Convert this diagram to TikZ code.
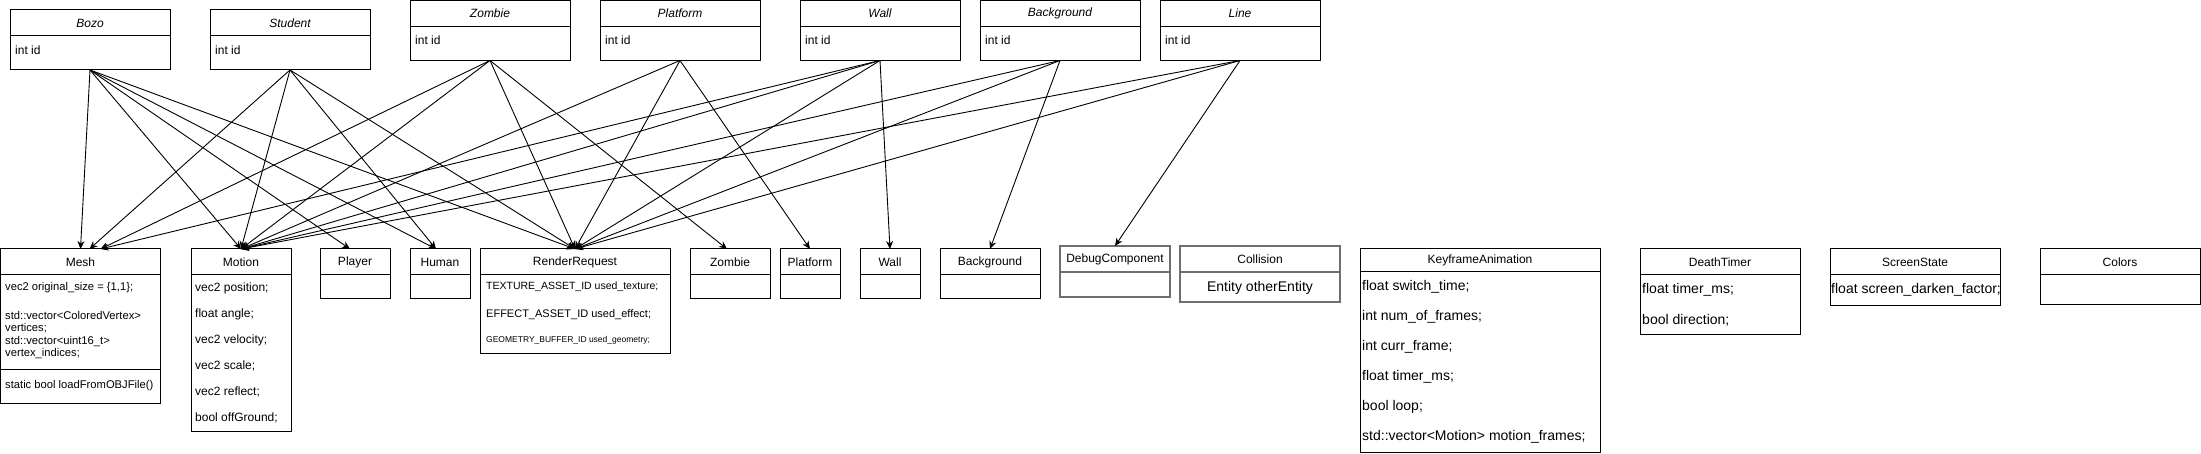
\documentclass[tikz,border=0pt]{standalone}
\usepackage{fontspec}
\setmainfont{Liberation Sans}
\usetikzlibrary{arrows.meta}
\definecolor{boxgray}{RGB}{110,110,110}

\begin{document}
\begin{tikzpicture}[x=1pt, y=-1pt,
    box/.style={draw, line width=1pt, anchor=north west, inner sep=0pt, outer sep=0pt},
    graybox/.style={box, draw=boxgray, line width=1.8pt},
    ttl/.style={font=\fontsize{12}{14}\selectfont, inner sep=0pt},
    attr/.style={font=\fontsize{12}{14}\selectfont, anchor=west, inner sep=0pt},
    small/.style={attr, font=\fontsize{11.2}{12}\selectfont, align=left},
    big/.style={attr, font=\fontsize{14}{16}\selectfont},
    edge/.style={line width=0.9pt, -{Stealth[length=8pt, width=7pt]}}]
        \useasboundingbox (0,0) rectangle (2201,454);

        \node[box, minimum width=160, minimum height=60] (bozo) at (10,10) {};
        \draw[line width=1pt] ([yshift=-26pt]bozo.north west) -- ([yshift=-26pt]bozo.north east);
        \node[ttl] (bozo-t) at ([yshift=-13pt]bozo.north) {\itshape Bozo};
        \node[attr] (bozo-a) at ([xshift=5pt,yshift=-40pt]bozo.north west) {int id};

        \node[box, minimum width=160, minimum height=60] (student) at (210,10) {};
        \draw[line width=1pt] ([yshift=-26pt]student.north west) -- ([yshift=-26pt]student.north east);
        \node[ttl] (student-t) at ([yshift=-13pt]student.north) {\itshape Student};
        \node[attr] (student-a) at ([xshift=5pt,yshift=-40pt]student.north west) {int id};

        \node[box, minimum width=160, minimum height=60] (zombie) at (410,0.5) {};
        \draw[line width=1pt] ([yshift=-26pt]zombie.north west) -- ([yshift=-26pt]zombie.north east);
        \node[ttl] (zombie-t) at ([yshift=-13pt]zombie.north) {\itshape Zombie};
        \node[attr] (zombie-a) at ([xshift=5pt,yshift=-40pt]zombie.north west) {int id};

        \node[box, minimum width=160, minimum height=60] (platform) at (600,0.5) {};
        \draw[line width=1pt] ([yshift=-26pt]platform.north west) -- ([yshift=-26pt]platform.north east);
        \node[ttl] (platform-t) at ([yshift=-13pt]platform.north) {\itshape Platform};
        \node[attr] (platform-a) at ([xshift=5pt,yshift=-40pt]platform.north west) {int id};

        \node[box, minimum width=160, minimum height=60] (wall) at (800,0.5) {};
        \draw[line width=1pt] ([yshift=-26pt]wall.north west) -- ([yshift=-26pt]wall.north east);
        \node[ttl] (wall-t) at ([yshift=-13pt]wall.north) {\itshape Wall};
        \node[attr] (wall-a) at ([xshift=5pt,yshift=-40pt]wall.north west) {int id};

        \node[box, minimum width=160, minimum height=60] (background) at (980,0.5) {};
        \draw[line width=1pt] ([yshift=-26pt]background.north west) -- ([yshift=-26pt]background.north east);
        \node[ttl] (background-t) at ([yshift=-13pt]background.north) {\itshape Background};
        \node[attr] (background-a) at ([xshift=5pt,yshift=-40pt]background.north west) {int id};

        \node[box, minimum width=160, minimum height=60] (line) at (1160,0.5) {};
        \draw[line width=1pt] ([yshift=-26pt]line.north west) -- ([yshift=-26pt]line.north east);
        \node[ttl] (line-t) at ([yshift=-13pt]line.north) {\itshape Line};
        \node[attr] (line-a) at ([xshift=5pt,yshift=-40pt]line.north west) {int id};

        \node[box, minimum width=160, minimum height=154] (mesh) at (0.5,249) {};
        \draw[line width=1pt] ([yshift=-26pt]mesh.north west) -- ([yshift=-26pt]mesh.north east);
        \draw[line width=1pt] ([yshift=-120pt]mesh.north west) -- ([yshift=-120pt]mesh.north east);
        \node[ttl] (mesh-t) at ([yshift=-13pt]mesh.north) {Mesh};
        \node[small] (mesh-a1) at (5,288) {vec2 original\_size = \{1,1\};};
        \node[small] (mesh-a2) at (5,322) {std::vector<ColoredVertex>\\vertices;};
        \node[small] (mesh-a3) at (5,348) {std::vector<uint16\_t>\\vertex\_indices;};
        \node[small] (mesh-m) at (5,386) {static bool loadFromOBJFile()};

        \node[box, minimum width=100, minimum height=182] (motion) at (191,249) {};
        \draw[line width=1pt] ([yshift=-26pt]motion.north west) -- ([yshift=-26pt]motion.north east);
        \node[ttl] (motion-t) at ([yshift=-13pt]motion.north) {Motion};
        \node[attr] (motion-a1) at (195,288) {vec2 position;};
        \node[attr] (motion-a2) at (195,314) {float angle;};
        \node[attr] (motion-a3) at (195,340) {vec2 velocity;};
        \node[attr] (motion-a4) at (195,366) {vec2 scale;};
        \node[attr] (motion-a5) at (195,392) {vec2 reflect;};
        \node[attr] (motion-a6) at (195,418) {bool offGround;};

        \node[box, minimum width=70, minimum height=50] (player) at (320,249) {};
        \draw[line width=1pt] ([yshift=-26pt]player.north west) -- ([yshift=-26pt]player.north east);
        \node[ttl] (player-t) at ([yshift=-13pt]player.north) {Player};

        \node[box, minimum width=60, minimum height=50] (human) at (410,249) {};
        \draw[line width=1pt] ([yshift=-26pt]human.north west) -- ([yshift=-26pt]human.north east);
        \node[ttl] (human-t) at ([yshift=-13pt]human.north) {Human};

        \node[box, minimum width=190, minimum height=104] (render) at (480,249) {};
        \draw[line width=1pt] ([yshift=-26pt]render.north west) -- ([yshift=-26pt]render.north east);
        \node[ttl] (render-t) at ([yshift=-13pt]render.north) {RenderRequest};
        \node[attr, font=\fontsize{10.5}{12}\selectfont] (render-a1) at (486,287) {TEXTURE\_ASSET\_ID used\_texture;};
        \node[attr, font=\fontsize{11}{12}\selectfont] (render-a2) at (486,315) {EFFECT\_ASSET\_ID used\_effect;};
        \node[attr, font=\fontsize{8.5}{10}\selectfont] (render-a3) at (486,340) {GEOMETRY\_BUFFER\_ID used\_geometry;};

        \node[box, minimum width=80, minimum height=50] (zombieb) at (690,249) {};
        \draw[line width=1pt] ([yshift=-26pt]zombieb.north west) -- ([yshift=-26pt]zombieb.north east);
        \node[ttl] (zombieb-t) at ([yshift=-13pt]zombieb.north) {Zombie};

        \node[box, minimum width=60, minimum height=50] (platformb) at (780,249) {};
        \draw[line width=1pt] ([yshift=-26pt]platformb.north west) -- ([yshift=-26pt]platformb.north east);
        \node[ttl] (platformb-t) at ([yshift=-13pt]platformb.north) {Platform};

        \node[box, minimum width=60, minimum height=50] (wallb) at (860,249) {};
        \draw[line width=1pt] ([yshift=-26pt]wallb.north west) -- ([yshift=-26pt]wallb.north east);
        \node[ttl] (wallb-t) at ([yshift=-13pt]wallb.north) {Wall};

        \node[box, minimum width=100, minimum height=50] (backgroundb) at (940,249) {};
        \draw[line width=1pt] ([yshift=-26pt]backgroundb.north west) -- ([yshift=-26pt]backgroundb.north east);
        \node[ttl] (backgroundb-t) at ([yshift=-13pt]backgroundb.north) {Background};

        \node[graybox, minimum width=110, minimum height=51] (debug) at (1060,246) {};
        \draw[boxgray, line width=1.8pt] ([yshift=-26pt]debug.north west) -- ([yshift=-26pt]debug.north east);
        \node[ttl] (debug-t) at ([yshift=-13pt]debug.north) {DebugComponent};

        \node[graybox, minimum width=160, minimum height=56] (collision) at (1180,246) {};
        \draw[boxgray, line width=1.8pt] ([yshift=-26pt]collision.north west) -- ([yshift=-26pt]collision.north east);
        \node[ttl] (collision-t) at ([yshift=-13pt]collision.north) {Collision};
        \node[ttl, font=\fontsize{14}{16}\selectfont] (collision-a) at ([yshift=-42pt]collision.north) {Entity otherEntity};

        \node[box, minimum width=240, minimum height=203] (keyframe) at (1360,249) {};
        \draw[line width=1pt] ([yshift=-23pt]keyframe.north west) -- ([yshift=-23pt]keyframe.north east);
        \node[ttl] (keyframe-t) at ([yshift=-11.5pt]keyframe.north) {KeyframeAnimation};
        \node[big] (keyframe-a1) at (1362,287) {float switch\_time;};
        \node[big] (keyframe-a2) at (1362,317) {int num\_of\_frames;};
        \node[big] (keyframe-a3) at (1362,347) {int curr\_frame;};
        \node[big] (keyframe-a4) at (1362,377) {float timer\_ms;};
        \node[big] (keyframe-a5) at (1362,407) {bool loop;};
        \node[big] (keyframe-a6) at (1362,437) {std::vector<Motion> motion\_frames;};

        \node[box, minimum width=160, minimum height=86] (death) at (1640,249) {};
        \draw[line width=1pt] ([yshift=-26pt]death.north west) -- ([yshift=-26pt]death.north east);
        \node[ttl] (death-t) at ([yshift=-13pt]death.north) {DeathTimer};
        \node[big] (death-a1) at (1642,290) {float timer\_ms;};
        \node[big] (death-a2) at (1642,320) {bool direction;};

        \node[box, minimum width=170, minimum height=57] (screen) at (1830,249) {};
        \draw[line width=1pt] ([yshift=-26pt]screen.north west) -- ([yshift=-26pt]screen.north east);
        \node[ttl] (screen-t) at ([yshift=-13pt]screen.north) {ScreenState};
        \node[big] (screen-a) at (1831,290) {float screen\_darken\_factor;};

        \node[box, minimum width=160, minimum height=56] (colors) at (2040,249) {};
        \draw[line width=1pt] ([yshift=-26pt]colors.north west) -- ([yshift=-26pt]colors.north east);
        \node[ttl] (colors-t) at ([yshift=-13pt]colors.north) {Colors};

        \draw[edge] (bozo.south) -- (mesh.north);
        \draw[edge] (bozo.south) -- (motion.north);
        \draw[edge] (bozo.south) -- ([xshift=-5pt]player.north);
        \draw[edge] (bozo.south) -- ([xshift=-4pt]human.north);
        \draw[edge] (bozo.south) -- (render.north);
        \draw[edge] (student.south) -- ([xshift=9pt]mesh.north);
        \draw[edge] (student.south) -- (motion.north);
        \draw[edge] (student.south) -- ([xshift=-4pt]human.north);
        \draw[edge] (student.south) -- (render.north);
        \draw[edge] (zombie.south) -- ([xshift=20pt]mesh.north);
        \draw[edge] (zombie.south) -- (motion.north);
        \draw[edge] (zombie.south) -- (render.north);
        \draw[edge] (zombie.south) -- ([xshift=-3pt]zombieb.north);
        \draw[edge] (platform.south) -- (motion.north);
        \draw[edge] (platform.south) -- (render.north);
        \draw[edge] (platform.south) -- (platformb.north);
        \draw[edge] (wall.south) -- ([xshift=20pt]mesh.north);
        \draw[edge] (wall.south) -- (motion.north);
        \draw[edge] (wall.south) -- (render.north);
        \draw[edge] (wall.south) -- (wallb.north);
        \draw[edge] (background.south) -- (motion.north);
        \draw[edge] (background.south) -- (render.north);
        \draw[edge] (background.south) -- (backgroundb.north);
        \draw[edge] (line.south) -- (motion.north);
        \draw[edge] (line.south) -- (render.north);
        \draw[edge] (line.south) -- (debug.north);
    \end{tikzpicture}
\end{document}
